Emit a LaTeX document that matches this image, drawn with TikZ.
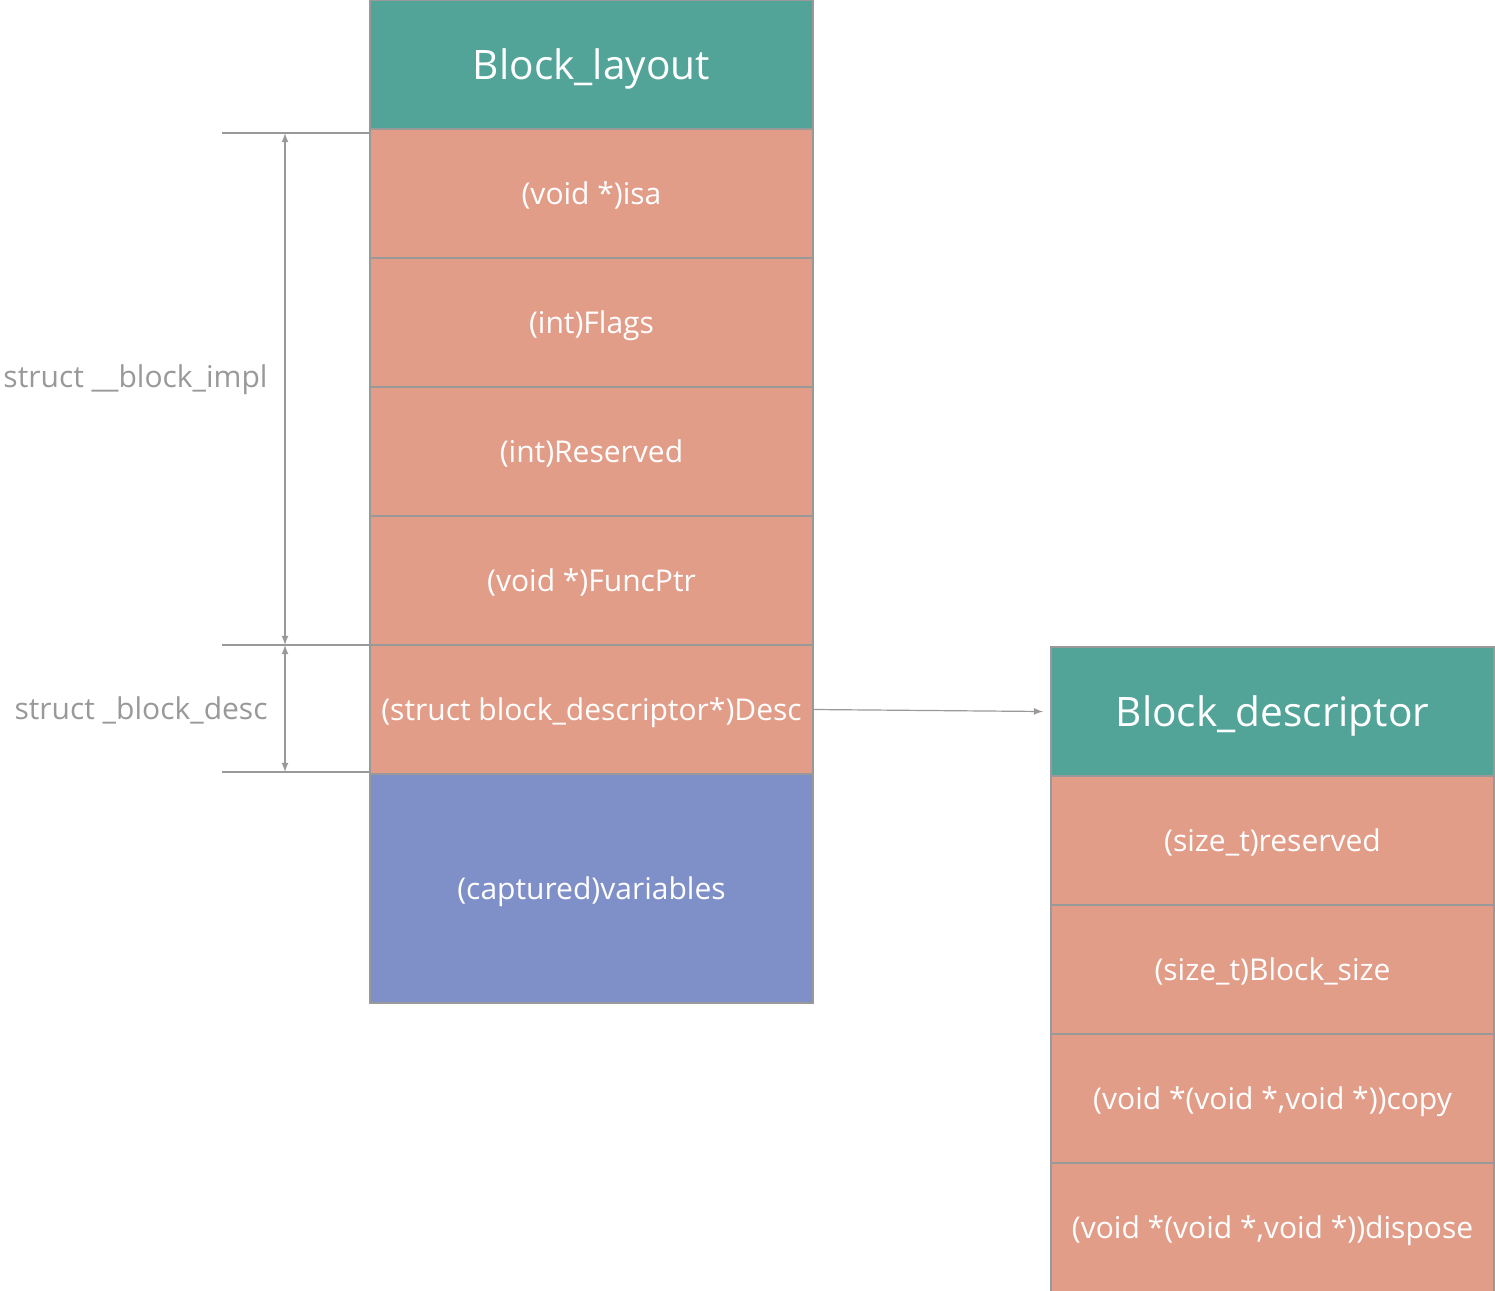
\documentclass[tikz,border=0pt]{standalone}
\usepackage{fontspec}
\setmainfont{Open Sans}
\usepackage{tikz}
\usetikzlibrary{positioning, arrows}

\definecolor{hdrteal}{HTML}{52A398}
\definecolor{fieldsalmon}{HTML}{E29D89}
\definecolor{capblue}{HTML}{7F8FC8}
\definecolor{lngray}{HTML}{999999}

\begin{document}
\begin{tikzpicture}[x=0.5pt, y=-0.5pt, node distance=0pt, >=latex]
        \tikzset{field/.style={draw=lngray, line width=0.6pt, fill=fieldsalmon, text=white,
            minimum width=221.5pt, minimum height=64.5pt, inner sep=0pt, outer sep=0pt,
            text depth=0pt, font=\fontsize{15}{18}\selectfont}}
        \tikzset{head/.style={field, fill=hdrteal, font=\fontsize{20.3}{24}\selectfont}}
        % dimension lines on the left
        \tikzstyle{dim}=[draw=lngray, line width=0.6pt]
        \tikzstyle{dimlabel}=[text=lngray, anchor=east, inner sep=0pt, font=\fontsize{15}{18}\selectfont]

        \useasboundingbox (0,0) rectangle (1495,1291);

        % Block_layout column
        \node[head, anchor=north west] (lay_hdr) at (370,0) {Block\_layout};
        \node[field, below=of lay_hdr] (lay_isa) {(void *)isa};
        \node[field, below=of lay_isa] (lay_flags) {(int)Flags};
        \node[field, below=of lay_flags] (lay_res) {(int)Reserved};
        \node[field, below=of lay_res] (lay_func) {(void *)FuncPtr};
        \node[field, below=of lay_func] (lay_desc) {(struct block\_descriptor*)Desc};
        \node[field, fill=capblue, minimum height=114.5pt, below=of lay_desc] (lay_vars) {(captured)variables};

        % Block_descriptor column
        \node[head, anchor=north west] (desc_hdr) at (1051,647) {Block\_descriptor};
        \node[field, below=of desc_hdr] (desc_res) {(size\_t)reserved};
        \node[field, below=of desc_res] (desc_size) {(size\_t)Block\_size};
        \node[field, below=of desc_size] (desc_copy) {(void *(void *,void *))copy};
        \node[field, below=of desc_copy] (desc_disp) {(void *(void *,void *))dispose};

        \coordinate (tick_a) at (222,133);
        \coordinate (tick_b) at (222,645);
        \coordinate (tick_c) at (222,772);
        \coordinate (span_a) at (285,133);
        \coordinate (span_b) at (285,645);
        \coordinate (span_c) at (285,772);
        \coordinate (desc_in) at ([xshift=-4pt]desc_hdr.west);

        \path[dim] (tick_a) -- (tick_a -| lay_isa.west)
                   (tick_b) -- (tick_b -| lay_isa.west)
                   (tick_c) -- (tick_c -| lay_isa.west);
        \draw[dim, <->] (span_a) -- (span_b);
        \draw[dim, <->] (span_b) -- (span_c);

        \node[dimlabel] (impl_lbl) at (268,380) {struct \_\_block\_impl};
        \node[dimlabel] (desc_lbl) at (268,710) {struct \_block\_desc};

        \draw[dim, ->] (lay_desc.east) -- (desc_in);
\end{tikzpicture}
\end{document}
